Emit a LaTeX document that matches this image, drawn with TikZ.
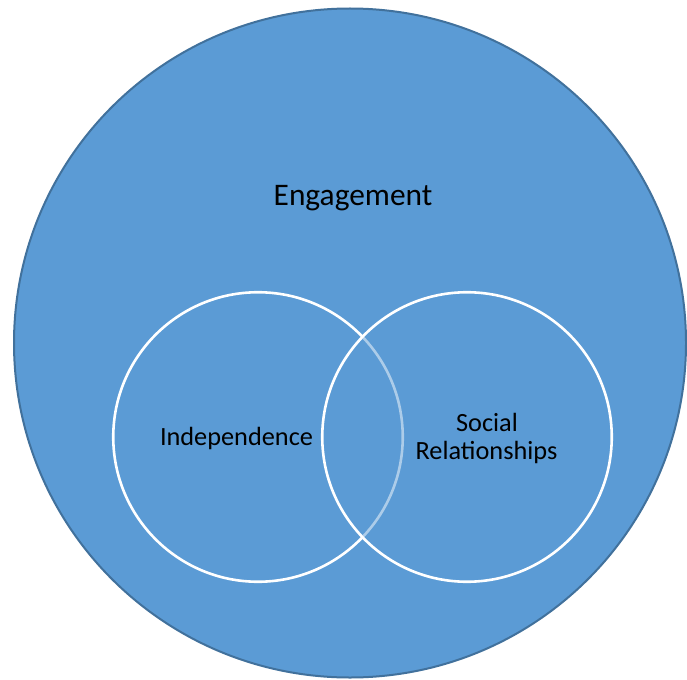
\documentclass[tikz,border=0pt]{standalone}
\usepackage{fontspec}
\setmainfont{Carlito}
\definecolor{engfill}{HTML}{5B9BD5}
\definecolor{engline}{HTML}{41719C}
\tikzset{
  setcircle/.style={circle, minimum size=289.5pt, inner sep=0pt, draw=white, line width=2.6pt, fill=engfill},
  smalltext/.style={font=\fontsize{26.3}{27.5}\selectfont, text=black, inner sep=0pt, align=center},
  bigtext/.style={font=\fontsize{31.4}{36}\selectfont, text=black, inner sep=0pt}
}
\begin{document}
\begin{tikzpicture}[x=1pt, y=-1pt]
\useasboundingbox (0,0) rectangle (687,679);
\fill[white] (0,0) rectangle (687,679);
\draw[fill=engfill, draw=engline, line width=2pt] (350,343) ellipse [x radius=336, y radius=334.5];
\node[setcircle] (indep) at (258,437) {};
\node[setcircle, fill opacity=0.5] (social) at (467,437) {};
\node[bigtext, anchor=base] (engage) at (353,205) {Engagement};
\node[smalltext, anchor=base] (indeplabel) at (236.5,445) {Independence};
\node[smalltext, anchor=base] (sociallabel1) at (487,431.7) {Social};
\node[smalltext, anchor=base] (sociallabel2) at (486.5,459) {Relationships};
\end{tikzpicture}
\end{document}
